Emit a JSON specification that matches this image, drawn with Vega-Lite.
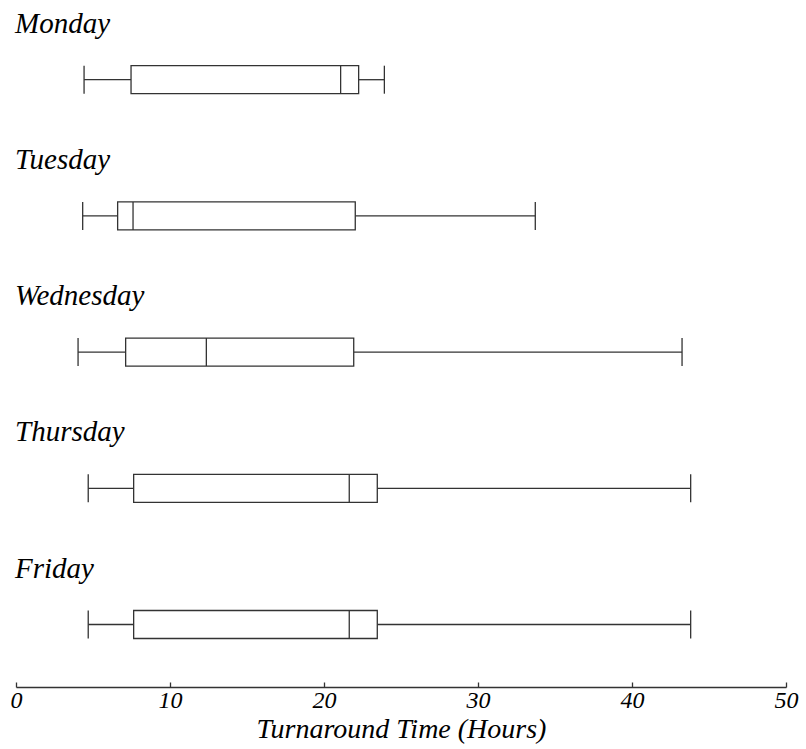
{
  "$schema": "https://vega.github.io/schema/vega-lite/v6.json",
  "width": 770,
  "height": 687,
  "autosize": {"type": "none"},
  "padding": {"left": 16, "top": 0, "right": 20, "bottom": 62},
  "background": "white",
  "config": {
    "view": {"stroke": null},
    "font": "Liberation Serif"
  },
  "data": {
    "values": [
      {"day": "Monday", "lo": 4.42, "q1": 7.47, "med": 21.08, "q3": 22.25, "hi": 23.92},
      {"day": "Tuesday", "lo": 4.33, "q1": 6.6, "med": 7.6, "q3": 22.03, "hi": 33.72},
      {"day": "Wednesday", "lo": 4.03, "q1": 7.12, "med": 12.36, "q3": 21.93, "hi": 43.25},
      {"day": "Thursday", "lo": 4.69, "q1": 7.64, "med": 21.64, "q3": 23.46, "hi": 43.81},
      {"day": "Friday", "lo": 4.69, "q1": 7.64, "med": 21.64, "q3": 23.46, "hi": 43.81}
    ]
  },
  "encoding": {
    "y": {
      "field": "day",
      "type": "nominal",
      "sort": null,
      "scale": {"type": "point", "padding": 0.522, "align": 0.5605},
      "axis": null
    }
  },
  "layer": [
    {
      "mark": {"type": "rule", "color": "#333", "strokeWidth": 1.3},
      "encoding": {
        "x": {
          "field": "lo",
          "type": "quantitative",
          "scale": {"domain": [0, 50], "nice": false, "zero": false},
          "axis": {
            "values": [0, 10, 20, 30, 40, 50],
            "grid": false,
            "domainColor": "#333",
            "domainWidth": 1.3,
            "tickColor": "#333",
            "tickWidth": 1.3,
            "tickSize": -5,
            "labelPadding": 6,
            "labelFontSize": 24,
            "labelFontStyle": "italic",
            "labelColor": "black",
            "labelFont": "Liberation Serif",
            "labelFlush": false,
            "title": "Turnaround Time (Hours)",
            "titleFontSize": 28,
            "titleFontStyle": "italic",
            "titleFontWeight": "normal",
            "titleColor": "black",
            "titleFont": "Liberation Serif",
            "titlePadding": 3
          }
        },
        "x2": {"field": "q1"}
      }
    },
    {
      "mark": {"type": "rule", "color": "#333", "strokeWidth": 1.3},
      "encoding": {
        "x": {"field": "q3", "type": "quantitative"},
        "x2": {"field": "hi"}
      }
    },
    {
      "mark": {"type": "bar", "size": 28, "fill": "white", "stroke": "#333", "strokeWidth": 1.3},
      "encoding": {
        "x": {"field": "q1", "type": "quantitative"},
        "x2": {"field": "q3"}
      }
    },
    {
      "mark": {"type": "tick", "size": 28, "thickness": 1.3, "color": "#333", "opacity": 1},
      "encoding": {"x": {"field": "lo", "type": "quantitative"}}
    },
    {
      "mark": {"type": "tick", "size": 28, "thickness": 1.3, "color": "#333", "opacity": 1},
      "encoding": {"x": {"field": "hi", "type": "quantitative"}}
    },
    {
      "mark": {"type": "tick", "size": 28, "thickness": 1.3, "color": "#333", "opacity": 1},
      "encoding": {"x": {"field": "med", "type": "quantitative"}}
    },
    {
      "mark": {
        "type": "text",
        "align": "left",
        "baseline": "alphabetic",
        "fontSize": 29,
        "fontStyle": "italic",
        "font": "Liberation Serif",
        "color": "black",
        "yOffset": -47,
        "dx": -1
      },
      "encoding": {
        "x": {"datum": 0, "type": "quantitative"},
        "text": {"field": "day"}
      }
    }
  ]
}
